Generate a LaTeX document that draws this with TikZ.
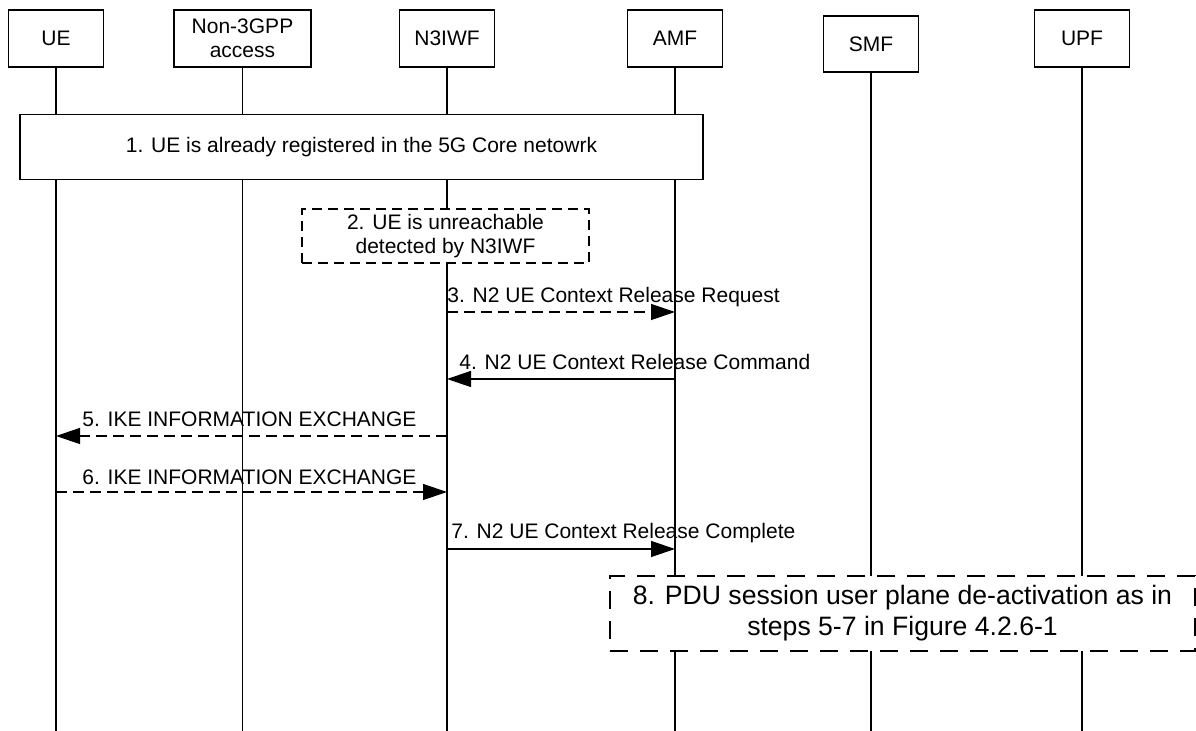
\documentclass[tikz,border=0pt]{standalone}
\usepackage{fontspec}
\setmainfont{Liberation Sans}
\usetikzlibrary{arrows.meta}
\begin{document}
\begin{tikzpicture}[
    x=0.5pt, y=-0.5pt,
    font=\fontsize{10.5}{12}\selectfont,
    entity/.style={draw, line width=0.75pt, fill=white, minimum width=47.5pt, minimum height=28.5pt, inner sep=0pt, align=center},
    life/.style={line width=0.7pt},
    stepbox/.style={draw, line width=0.75pt, fill=white, inner sep=0pt, align=center},
    msg/.style={line width=0.65pt, -{Triangle[length=12pt, width=8pt]}},
    dashmsg/.style={msg, dash pattern=on 5.5pt off 3pt},
    lbl/.style={anchor=west, inner sep=0pt}
]
\useasboundingbox (0,0) rectangle (1196,731);

% Entities (top)
\node[entity] (ue) at (56,38.5) {UE};
\node[entity, minimum width=68.5pt] (n3gpp) at (242.5,38.5) {Non-3GPP\\access};
\node[entity] (n3iwf) at (447,38.5) {N3IWF};
\node[entity] (amf) at (675,38.5) {AMF};
\node[entity, minimum height=28pt] (smf) at (871,44) {SMF};
\node[entity] (upf) at (1082,38.5) {UPF};
\coordinate (bot) at (0,731);

% Lifelines
\draw[life] (ue.south) -- (ue |- bot);
\draw[life] (n3gpp.south) -- (n3gpp |- bot);
\draw[life] (n3iwf.south) -- (n3iwf |- bot);
\draw[life] (amf.south) -- (amf |- bot);
\draw[life] (smf.south) -- (smf |- bot);
\draw[life] (upf.south) -- (upf |- bot);

% Step 1 and 2
\node[stepbox, minimum width=341.5pt, minimum height=32.5pt] (s1) at (361.5,147) {1. UE is already registered in the 5G Core netowrk};
\node[stepbox, dash pattern=on 5pt off 3pt, minimum width=143.5pt, minimum height=27pt] (s2) at (445.5,236) {2. UE is unreachable\\detected by N3IWF};

% Messages
\coordinate (y3) at (0,312);
\coordinate (y4) at (0,379);
\coordinate (y5) at (0,436);
\coordinate (y6) at (0,492);
\coordinate (y7) at (0,549);
\draw[dashmsg] (n3iwf |- y3) -- (amf |- y3);
\node[lbl] (l3) at (447,297) {3. N2 UE Context Release Request};
\draw[msg] (amf |- y4) -- (n3iwf |- y4);
\node[lbl] (l4) at (459,362) {4. N2 UE Context Release Command};
\draw[dashmsg] (n3iwf |- y5) -- (ue |- y5);
\node[lbl] (l5) at (82,419) {5. IKE INFORMATION EXCHANGE};
\draw[dashmsg] (ue |- y6) -- (n3iwf |- y6);
\node[lbl] (l6) at (82,477) {6. IKE INFORMATION EXCHANGE};
\draw[msg] (n3iwf |- y7) -- (amf |- y7);
\node[lbl] (l7) at (451,533) {7. N2 UE Context Release Complete};

% Step 8
\node[stepbox, line width=1.3pt, dash pattern=on 9pt off 6pt, minimum width=292.5pt, minimum height=37.5pt, font=\fontsize{13.3}{15.5}\selectfont] (s8) at (902.5,613.5) {8. PDU session user plane de-activation as in\\steps 5-7 in Figure 4.2.6-1};
\end{tikzpicture}
\end{document}
